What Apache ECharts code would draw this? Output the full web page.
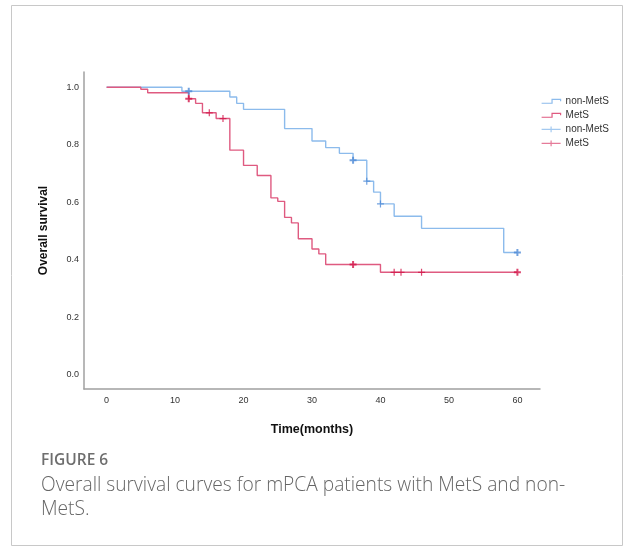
<!DOCTYPE html>
<html><head><meta charset="utf-8">
<script src="https://cdn.jsdelivr.net/npm/echarts@6/dist/echarts.min.js"></script>
<style>html,body{margin:0;padding:0;background:#fff}#c{width:625px;height:549px}</style>
</head><body><div id="c"></div>
<script>
// ---- data ----
const xTicks = [0, 10, 20, 30, 40, 50, 60];
const yTicks = [0.0, 0.2, 0.4, 0.6, 0.8, 1.0];

const nonMetsTime = [0, 11, 18, 19, 20, 26, 30, 32, 34, 36, 38, 39, 40, 42, 46, 58, 60];
const nonMetsSurv = [1.0, 0.986, 0.966, 0.944, 0.923, 0.856, 0.813, 0.790, 0.770, 0.746, 0.673, 0.635, 0.594, 0.551, 0.509, 0.425, 0.425];

const metsTime = [0, 5, 6, 12, 13, 14, 16, 18, 20, 22, 24, 25, 26, 27, 28, 30, 31, 32, 40, 60];
const metsSurv = [1.0, 0.993, 0.981, 0.960, 0.944, 0.911, 0.891, 0.781, 0.728, 0.693, 0.615, 0.603, 0.547, 0.528, 0.473, 0.437, 0.420, 0.383, 0.356, 0.356];

const nonMetsCensTime = [12, 36, 38, 40, 60];
const nonMetsCensSurv = [0.986, 0.746, 0.673, 0.594, 0.425];
const nonMetsCensN = [2, 2, 1, 1, 2];

const metsCensTime = [12, 15, 17, 36, 42, 43, 46, 60];
const metsCensSurv = [0.960, 0.911, 0.891, 0.383, 0.356, 0.356, 0.356, 0.356];
const metsCensN = [2, 1, 1, 2, 1, 1, 1, 2];

const seriesNames = ['non-MetS', 'MetS', 'non-MetS censored', 'MetS censored'];

// ---- styles ----
const blueLine = '#8cbbec';
const redLine = '#df5a80';
const blueCens = '#4d8ad6';
const redCens = '#d21548';
const crossPath = 'path://M0,5L10,5M5,0L5,10';

const zip = (a, b) => a.map((v, i) => [v, b[i]]);
const cens = (t, s, n, col) => t.map((v, i) => ({
  value: [v, s[i]],
  itemStyle: { color: 'rgba(0,0,0,0)', borderColor: col, borderWidth: n[i] > 1 ? 2 : 1.2 }
}));

const chart = echarts.init(document.getElementById('c'), null, { renderer: 'canvas' });
const font = '"Liberation Sans", Arial, sans-serif';

chart.setOption({
  animation: false,
  backgroundColor: '#fff',
  grid: { left: 84, right: 85, top: 72, bottom: 160, containLabel: false },
  xAxis: {
    type: 'value', min: -3.3, max: 63.3,
    name: 'Time(months)', nameLocation: 'middle', nameGap: 34,
    nameTextStyle: { fontFamily: font, fontSize: 12.5, fontWeight: 'bold', color: '#111' },
    axisLine: { show: true, onZero: false, lineStyle: { color: '#a0a0a0', width: 1.5 } },
    axisTick: { show: false },
    splitLine: { show: false },
    axisLabel: { customValues: xTicks, margin: 7, fontFamily: font, fontSize: 9, color: '#333' }
  },
  yAxis: {
    type: 'value', min: -0.05, max: 1.053,
    name: 'Overall survival', nameLocation: 'middle', nameGap: 34, nameRotate: 90,
    nameTextStyle: { fontFamily: font, fontSize: 12, fontWeight: 'bold', color: '#111' },
    axisLine: { show: true, onZero: false, lineStyle: { color: '#a0a0a0', width: 1.5 } },
    axisTick: { show: false },
    splitLine: { show: false },
    axisLabel: { customValues: yTicks, margin: 5, fontFamily: font, fontSize: 9, color: '#333',
      formatter: v => Number(v).toFixed(1) }
  },
  legend: {
    orient: 'vertical', left: 541, top: 96, padding: 0,
    itemWidth: 19, itemHeight: 10, itemGap: 3.3,
    textStyle: { fontFamily: font, fontSize: 10, color: '#333' },
    formatter: n => n.replace(' censored', ''),
    data: [
      { name: seriesNames[0], icon: 'path://M0,0M20,10M0,7L11,7L11,3L20,3L20,5',
        itemStyle: { color: 'rgba(0,0,0,0)', borderColor: blueLine, borderWidth: 1.2 } },
      { name: seriesNames[1], icon: 'path://M0,0M20,10M0,7L11,7L11,3L20,3L20,5',
        itemStyle: { color: 'rgba(0,0,0,0)', borderColor: redLine, borderWidth: 1.2 } },
      { name: seriesNames[2], icon: 'path://M0,0M20,10M0,5L20,5M10,2L10,8',
        itemStyle: { color: 'rgba(0,0,0,0)', borderColor: blueLine, borderWidth: 1.2 } },
      { name: seriesNames[3], icon: 'path://M0,0M20,10M0,5L20,5M10,2L10,8',
        itemStyle: { color: 'rgba(0,0,0,0)', borderColor: redLine, borderWidth: 1.2 } }
    ]
  },
  series: [
    { name: seriesNames[0], type: 'line', step: 'end', data: zip(nonMetsTime, nonMetsSurv),
      symbol: 'none', showSymbol: false, lineStyle: { color: blueLine, width: 1.4 }, itemStyle: { color: blueLine } },
    { name: seriesNames[1], type: 'line', step: 'end', data: zip(metsTime, metsSurv),
      symbol: 'none', showSymbol: false, lineStyle: { color: redLine, width: 1.4 }, itemStyle: { color: redLine } },
    { name: seriesNames[2], type: 'scatter', symbol: crossPath, symbolSize: 7,
      data: cens(nonMetsCensTime, nonMetsCensSurv, nonMetsCensN, blueCens), z: 3 },
    { name: seriesNames[3], type: 'scatter', symbol: crossPath, symbolSize: 7,
      data: cens(metsCensTime, metsCensSurv, metsCensN, redCens), z: 3 }
  ],
  graphic: [
    { type: 'rect', shape: { x: 11.5, y: 5.5, width: 611, height: 540 },
      style: { fill: 'none', stroke: '#c8c8c8', lineWidth: 1 }, silent: true },
    { type: 'text', left: 41, top: 453, silent: true,
      style: { text: 'FIGURE 6', font: '600 15.5px "Open Sans", sans-serif', fill: '#6e6e6e' } },
    { type: 'text', left: 41, top: 476, silent: true,
      style: { text: 'Overall survival curves for mPCA patients with MetS and non-', font: '300 19.2px "Open Sans", sans-serif', fill: '#666' } },
    { type: 'text', left: 41, top: 500, silent: true,
      style: { text: 'MetS.', font: '300 19.2px "Open Sans", sans-serif', fill: '#666' } }
  ]
});
</script>
</body></html>
